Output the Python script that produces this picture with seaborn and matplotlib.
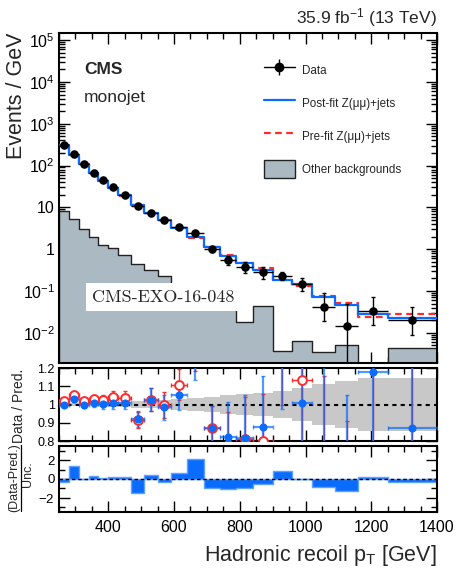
import numpy as np
import pandas as pd
import matplotlib
matplotlib.use("Agg")
import matplotlib.pyplot as plt
from matplotlib.lines import Line2D
from matplotlib.patches import Patch
from matplotlib.ticker import FixedLocator, FixedFormatter, MultipleLocator, LogLocator, NullFormatter
import seaborn as sns

# Hadronic recoil binning [GeV]
recoil_edges = [250, 280, 310, 340, 370, 400, 430, 470, 510, 550, 590, 640,
                690, 740, 790, 840, 900, 960, 1020, 1090, 1160, 1250, 1400]

# Observed events / GeV and asymmetric uncertainties
data_rate = [308, 184, 110, 68, 44, 30, 19.8, 10.7, 7.5, 4.95, 3.36, 2.41,
             1.0, 0.56, 0.38, 0.28, 0.23, 0.151, 0.042, 0.0143, 0.033, 0.020]
data_err_lo = [3.2, 2.5, 1.9, 1.5, 1.2, 1.0, 0.7, 0.5, 0.45, 0.35, 0.26, 0.22,
               0.14, 0.13, 0.11, 0.09, 0.05, 0.05, 0.023, 0.0136, 0.018, 0.011]
data_err_hi = [3.2, 2.5, 1.9, 1.5, 1.2, 1.0, 0.7, 0.5, 0.45, 0.35, 0.26, 0.22,
               0.14, 0.13, 0.11, 0.09, 0.06, 0.05, 0.046, 0.034, 0.037, 0.021]

# Z(mumu)+jets predictions and other backgrounds (events / GeV)
zmm_postfit = [309, 179, 110, 67.6, 43.8, 29.8, 19.6, 11.6, 7.3, 5.03, 3.2, 1.93,
               1.15, 0.68, 0.465, 0.32, 0.185, 0.15, 0.072, 0.046, 0.028, 0.023]
zmm_prefit = [302, 175, 108, 66, 43, 28.8, 19.1, 11.7, 7.3, 4.97, 3.03, 1.85,
              1.15, 0.72, 0.47, 0.35, 0.18, 0.133, 0.076, 0.053, 0.024, 0.028]
other_bkg = [8.0, 5.2, 3.05, 2.0, 1.28, 1.09, 0.72, 0.44, 0.32, 0.23, 0.15, 0.10,
             0.075, 0.06, 0.018, 0.044, 0.0036, 0.0063, 0.0034, 0.0052, 0.0, 0.0043]

# Relative post-fit uncertainty and pulls
fit_unc = [0.01, 0.01, 0.01, 0.01, 0.012, 0.012, 0.015, 0.02, 0.02, 0.025, 0.03, 0.035,
           0.04, 0.05, 0.055, 0.065, 0.075, 0.09, 0.11, 0.13, 0.145, 0.145]
pulls = [-0.36, 1.36, 0.05, 0.36, 0.1, 0.25, 0.25, -1.5, 0.4, -0.32, 0.6, 2.1,
         -1.0, -1.07, -0.93, -0.54, 0.82, -0.05, -0.86, -1.32, 0.18, -0.28]

x_ticks = [400, 600, 800, 1000, 1200, 1400]

BLUE = "#0a6cff"
RED = "#ff2a2a"
GREY_FILL = "#abb9c3"

sns.set_theme(style="ticks")
plt.rcParams["font.family"] = ["Liberation Sans", "DejaVu Sans"]
plt.rcParams["mathtext.fontset"] = "custom"
plt.rcParams["mathtext.rm"] = "Liberation Sans"
plt.rcParams["mathtext.it"] = "Liberation Sans:italic"
plt.rcParams["mathtext.bf"] = "Liberation Sans:bold"
plt.rcParams["axes.linewidth"] = 1.5
plt.rcParams["axes.edgecolor"] = "black"

edges = np.array(recoil_edges, dtype=float)
centers = 0.5 * (edges[1:] + edges[:-1])
half_w = 0.5 * np.diff(edges)
data = np.array(data_rate)
elo = np.array(data_err_lo)
ehi = np.array(data_err_hi)
post = np.array(zmm_postfit)
pre = np.array(zmm_prefit)
unc = np.array(fit_unc)

hists = pd.DataFrame({
    "recoil": centers,
    "other": other_bkg,
    "prefit": zmm_prefit,
    "postfit": zmm_postfit,
    "pull": pulls,
})

W, H = 458, 572
fig = plt.figure(figsize=(W / 100, H / 100), dpi=100)
ax = fig.add_axes([0.1288, 0.3654, 0.8253, 0.5769])
axr = fig.add_axes([0.1288, 0.229, 0.8253, 0.1276])
axp = fig.add_axes([0.1288, 0.1049, 0.8253, 0.1154])


def style_x(a, labels):
    a.set_xlim(250, 1400)
    a.xaxis.set_major_locator(FixedLocator(x_ticks))
    a.xaxis.set_minor_locator(MultipleLocator(50))
    a.tick_params(axis="both", which="both", direction="in", top=True, right=True,
                  colors="black", width=1.0)
    a.tick_params(axis="both", which="major", length=8)
    a.tick_params(axis="both", which="minor", length=4.5)
    if not labels:
        a.set_xticklabels([])
    a.set_xlabel("")
    a.set_ylabel("")


# ---- main panel ----
ax.set_yscale("log")
sns.histplot(data=hists, x="recoil", weights="other", bins=recoil_edges, element="step",
             fill=True, color=GREY_FILL, alpha=1.0, edgecolor="#222222", linewidth=1.0,
             ax=ax, zorder=1)
sns.histplot(data=hists, x="recoil", weights="prefit", bins=recoil_edges, element="step",
             fill=False, color=RED, linewidth=1.6, linestyle=(0, (3, 2)), ax=ax, zorder=3)
sns.histplot(data=hists, x="recoil", weights="postfit", bins=recoil_edges, element="step",
             fill=False, color=BLUE, linewidth=1.6, ax=ax, zorder=4)
ax.errorbar(centers, data, xerr=half_w, fmt="none", ecolor="black", elinewidth=1.0,
            capsize=0, zorder=5)
ax.errorbar(centers, data, yerr=[elo, ehi], fmt="none", ecolor="black", elinewidth=1.0,
            capsize=1.6, zorder=5)
sns.scatterplot(x=centers, y=data, color="black", s=38, edgecolor="black", linewidth=0,
                ax=ax, zorder=6)

ax.set_ylim(1.9e-3, 1.48e5)
decades = [1e-2, 1e-1, 1, 10, 1e2, 1e3, 1e4, 1e5]
ax.yaxis.set_major_locator(FixedLocator(decades))
ax.yaxis.set_major_formatter(FixedFormatter(
    [r"$10^{-2}$", r"$10^{-1}$", "1", "10", r"$10^{2}$", r"$10^{3}$", r"$10^{4}$", r"$10^{5}$"]))
ax.yaxis.set_minor_locator(LogLocator(base=10, subs=np.arange(2, 10), numticks=20))
ax.yaxis.set_minor_formatter(NullFormatter())
style_x(ax, labels=False)
ax.tick_params(axis="y", labelsize=11.5, pad=3)

ax.text(0.066, 0.888, "CMS", transform=ax.transAxes, fontsize=12.5, fontweight="bold",
        ha="left", va="center")
ax.text(0.066, 0.806, "monojet", transform=ax.transAxes, fontsize=12.5,
        ha="left", va="center")
ax.text(0.276, 0.2, "CMS-EXO-16-048", transform=ax.transAxes, fontsize=13,
        family="cmr10", ha="center", va="center", zorder=7,
        bbox=dict(facecolor="white", edgecolor="none", pad=4.5))

data_handle = (Line2D([], [], color="black", lw=1.0),
               Line2D([], [], color="black", marker="|", ms=12, mew=1.0, ls="none"),
               Line2D([], [], color="black", marker="o", ms=6, ls="none"))
handles = [data_handle,
           Line2D([], [], color=BLUE, lw=1.6),
           Line2D([], [], color=RED, lw=1.6, ls=(0, (3, 2))),
           Patch(facecolor=GREY_FILL, edgecolor="#222222", lw=1.0)]
labels = ["Data", "Post-fit Z(μμ)+jets", "Pre-fit Z(μμ)+jets", "Other backgrounds"]
ax.legend(handles, labels, loc="upper left", bbox_to_anchor=(0.542, 0.915), frameon=False,
          fontsize=8.4, handlelength=2.65, handleheight=1.97, labelspacing=1.3,
          handletextpad=0.6, borderpad=0, borderaxespad=0)

# ---- ratio panel ----
axr.stairs(1 + unc, edges, baseline=1 - unc, fill=True, color="#c8c8c8", zorder=1)
axr.axhline(1.0, color="black", lw=1.5, ls=(0, (2, 2)), zorder=2)
r_pre = data / pre
r_post = data / post
axr.errorbar(centers, r_pre, xerr=half_w, yerr=[elo / pre, ehi / pre], fmt="none",
             ecolor=RED, elinewidth=1.0, capsize=1.2, zorder=3)
axr.errorbar(centers, r_post, xerr=half_w, yerr=[elo / post, ehi / post], fmt="none",
             ecolor=BLUE, elinewidth=1.6, capsize=1.2, alpha=0.7, zorder=4)
sns.scatterplot(x=centers, y=r_pre, facecolor="white", edgecolor=RED, s=40, linewidth=1.4,
                ax=axr, zorder=5)
sns.scatterplot(x=centers, y=r_post, color=BLUE, s=34, edgecolor=BLUE, linewidth=0,
                ax=axr, zorder=6)
axr.set_ylim(0.8, 1.2)
axr.yaxis.set_major_locator(FixedLocator([0.8, 0.9, 1.0, 1.1, 1.2]))
axr.yaxis.set_major_formatter(FixedFormatter(["0.8", "0.9", "1", "1.1", "1.2"]))
style_x(axr, labels=False)
axr.tick_params(axis="y", labelsize=9, pad=3)

# ---- pull panel ----
sns.histplot(data=hists, x="recoil", weights="pull", bins=recoil_edges, element="step",
             fill=True, color=BLUE, alpha=1.0, edgecolor="#5da2ff", linewidth=1.0,
             ax=axp, zorder=1)
axp.axhline(0.0, color="black", lw=1.0, ls=(0, (2.5, 2)), zorder=3)
axp.set_ylim(-3.5, 3.5)
axp.yaxis.set_major_locator(FixedLocator([-2, 0, 2]))
axp.yaxis.set_major_formatter(FixedFormatter([r"$-2$", "0", "2"]))
axp.yaxis.set_minor_locator(FixedLocator([-3, -1, 1, 3]))
style_x(axp, labels=True)
axp.tick_params(axis="y", labelsize=9.5, pad=3)
axp.tick_params(axis="x", labelsize=11.5, pad=6)

# ---- figure labels ----
fig.text(17 / W, 1 - 96 / H, "Events / GeV", rotation=90, fontsize=15.5,
         ha="center", va="center")
fig.text(19.5 / W, 1 - 406 / H, "Data / Pred.", rotation=90, fontsize=10,
         ha="center", va="center")
# pull label written as a fraction: numerator, bar, denominator
fig.text(14 / W, 1 - 478 / H, "(Data-Pred.)", rotation=90, fontsize=9,
         ha="center", va="center")
fig.add_artist(Line2D([21 / W, 21 / W], [1 - 445 / H, 1 - 511 / H],
                      transform=fig.transFigure, color="black", lw=0.9))
fig.text(28 / W, 1 - 474 / H, "Unc.", rotation=90, fontsize=9,
         ha="center", va="center")
fig.text(437 / W, 1 - 555 / H, r"Hadronic recoil p$_{\mathrm{T}}$ [GeV]", fontsize=15.5,
         ha="right", va="center")
fig.text(437 / W, 1 - 17.5 / H, r"35.9 fb$^{-1}$ (13 TeV)", fontsize=12.5,
         ha="right", va="center")

fig.savefig("out.png", dpi=100)
